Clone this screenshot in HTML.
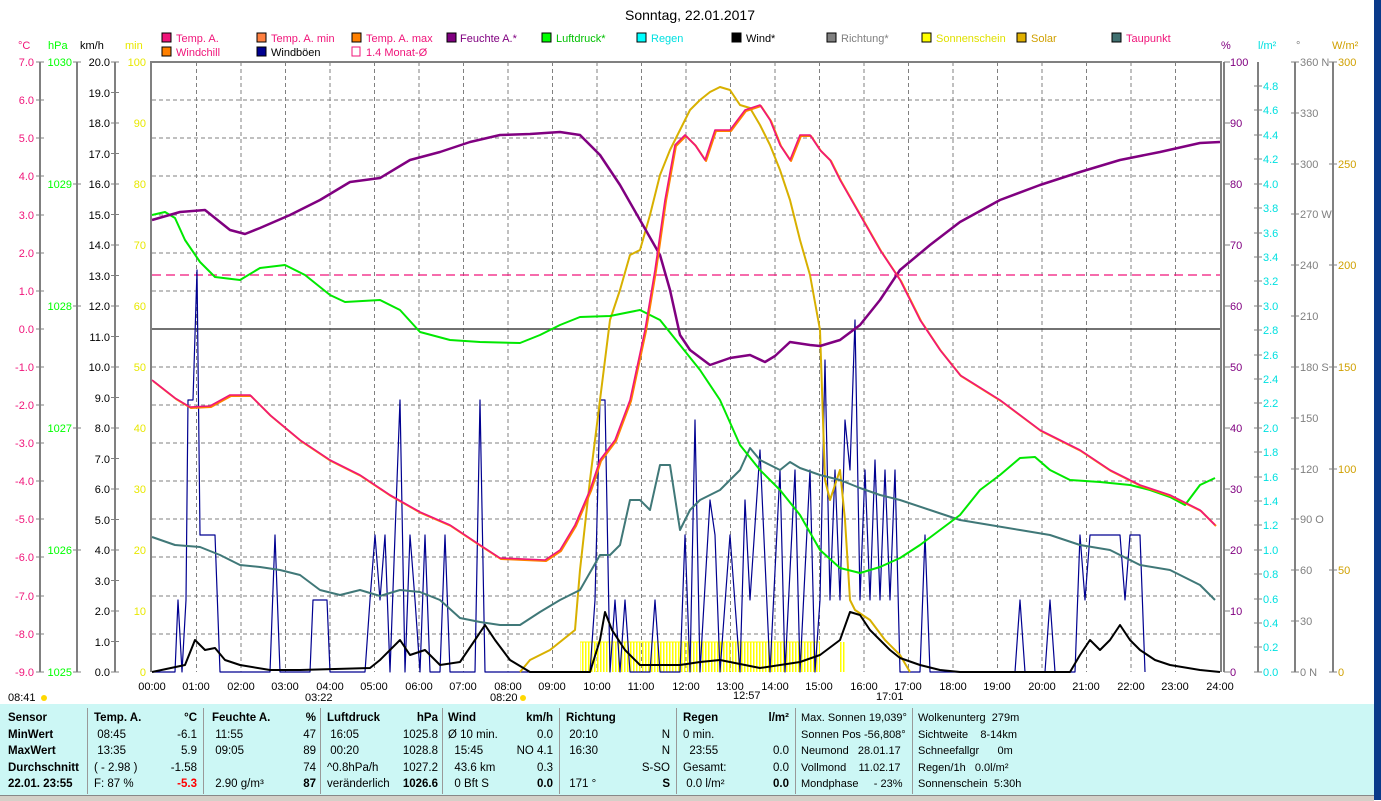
<!DOCTYPE html>
<html><head><meta charset="utf-8"><style>
body{margin:0;width:1381px;height:800px;overflow:hidden;background:#fff;font-family:"Liberation Sans",sans-serif}
svg{position:absolute;left:0;top:0}
text{font-family:"Liberation Sans",sans-serif;font-size:11px}
#tb{position:absolute;left:0;top:704px;width:1374px;height:91px;background:#ccf7f5;font-size:11.5px}
.c{position:absolute;top:4px;height:86px;border-right:1px solid #999}
.r{position:absolute;white-space:nowrap;line-height:16.5px}
b{font-weight:bold}
</style></head><body>
<svg width="1381" height="800" viewBox="0 0 1381 800">
<rect x="1374" y="0" width="7" height="800" fill="#0a3a8a"/>
<text x="690" y="20" font-size="14" text-anchor="middle" style="font-size:14px">Sonntag, 22.01.2017</text>
<g style="font-size:11px">
<rect x="162" y="33" width="9" height="9" fill="#f0157a" stroke="#000"/><text x="176" y="42" fill="#f0157a">Temp. A.</text>
<rect x="257" y="33" width="9" height="9" fill="#ff8040" stroke="#000"/><text x="271" y="42" fill="#f0157a">Temp. A. min</text>
<rect x="352" y="33" width="9" height="9" fill="#ff8000" stroke="#000"/><text x="366" y="42" fill="#f0157a">Temp. A. max</text>
<rect x="447" y="33" width="9" height="9" fill="#800080" stroke="#000"/><text x="460" y="42" fill="#800080">Feuchte A.*</text>
<rect x="542" y="33" width="9" height="9" fill="#00ff00" stroke="#000"/><text x="556" y="42" fill="#00c000">Luftdruck*</text>
<rect x="637" y="33" width="9" height="9" fill="#00ffff" stroke="#000"/><text x="651" y="42" fill="#00e0e0">Regen</text>
<rect x="732" y="33" width="9" height="9" fill="#000" stroke="#000"/><text x="746" y="42">Wind*</text>
<rect x="827" y="33" width="9" height="9" fill="#808080" stroke="#000"/><text x="841" y="42" fill="#808080">Richtung*</text>
<rect x="922" y="33" width="9" height="9" fill="#ffff00" stroke="#000"/><text x="936" y="42" fill="#e0e000">Sonnenschein</text>
<rect x="1017" y="33" width="9" height="9" fill="#e0b000" stroke="#000"/><text x="1031" y="42" fill="#d0a000">Solar</text>
<rect x="1112" y="33" width="9" height="9" fill="#407070" stroke="#000"/><text x="1126" y="42" fill="#f0157a">Taupunkt</text>
<rect x="162" y="47" width="9" height="9" fill="#ff8000" stroke="#000"/><text x="176" y="56" fill="#f0157a">Windchill</text>
<rect x="257" y="47" width="9" height="9" fill="#000090" stroke="#000"/><text x="271" y="56">Windböen</text>
<rect x="352" y="47" width="8" height="9" fill="none" stroke="#f0157a"/><text x="366" y="56" fill="#f0157a">1.4 Monat-Ø</text>
</g>
<text x="18" y="49" fill="#f0157a">°C</text><text x="48" y="49" fill="#00ff00">hPa</text><text x="80" y="49">km/h</text><text x="125" y="49" fill="#e8e800">min</text>
<text x="1221" y="49" fill="#800080">%</text><text x="1258" y="49" fill="#00e0e0">l/m²</text><text x="1296" y="49" fill="#808080">°</text><text x="1332" y="49" fill="#d0a000">W/m²</text>
<g stroke="#808080" stroke-dasharray="4,3" stroke-width="1">
<path d="M152 100H1220M152 138H1220M152 176H1220M152 215H1220M152 253H1220M152 291H1220M152 367H1220M152 405H1220M152 443H1220M152 481H1220M152 519H1220M152 557H1220M152 596H1220M152 634H1220"/>
<path d="M196.5 62V672M241 62V672M285.5 62V672M330 62V672M374.5 62V672M419 62V672M463.5 62V672M508 62V672M552.5 62V672M597 62V672M641.5 62V672M686 62V672M730.5 62V672M775 62V672M819.5 62V672M864 62V672M908.5 62V672M953 62V672M997.5 62V672M1042 62V672M1086.5 62V672M1131 62V672M1175.5 62V672"/>
</g>
<path d="M152 329H1220" stroke="#444" stroke-width="1.5"/>
<path d="M152 275H1220" stroke="#f0157a" stroke-dasharray="9,5" stroke-width="1.2"/>
<g stroke="#808080" stroke-width="2" fill="none">
<path d="M151 672V62H1221V672"/><path d="M1224 62V672"/>
<path d="M40 62V672M77 62V672M115 62V672M1258 62V672M1295 62V672M1333 62V672"/>
</g>
<g stroke="#808080" stroke-width="1">
<path d="M36 62h8M36 100h8M36 138h8M36 176h8M36 215h8M36 253h8M36 291h8M36 329h8M36 367h8M36 405h8M36 443h8M36 481h8M36 519h8M36 557h8M36 596h8M36 634h8M36 672h8"/>
<path d="M73 62h8M73 184h8M73 306h8M73 428h8M73 550h8M73 672h8"/>
<path d="M111 62h8M111 92.5h8M111 123h8M111 153.5h8M111 184h8M111 214.5h8M111 245h8M111 275.5h8M111 306h8M111 336.5h8M111 367h8M111 397.5h8M111 428h8M111 458.5h8M111 489h8M111 519.5h8M111 550h8M111 580.5h8M111 611h8M111 641.5h8M111 672h8"/>
<path d="M1224 62h6M1224 123h6M1224 184h6M1224 245h6M1224 306h6M1224 367h6M1224 428h6M1224 489h6M1224 550h6M1224 611h6M1224 672h6"/>
<path d="M1254 86h8M1254 110h8M1254 135h8M1254 159h8M1254 184h8M1254 208h8M1254 233h8M1254 257h8M1254 281h8M1254 306h8M1254 330h8M1254 355h8M1254 379h8M1254 403h8M1254 428h8M1254 452h8M1254 477h8M1254 501h8M1254 525h8M1254 550h8M1254 574h8M1254 599h8M1254 623h8M1254 647h8M1254 672h8"/>
<path d="M1291 62h8M1291 113h8M1291 164h8M1291 214h8M1291 265h8M1291 316h8M1291 367h8M1291 418h8M1291 469h8M1291 519h8M1291 570h8M1291 621h8M1291 672h8"/>
<path d="M1329 62h8M1329 164h8M1329 265h8M1329 367h8M1329 469h8M1329 570h8M1329 672h8"/>
</g>
<g fill="#f0157a" text-anchor="end">
<text x="34" y="66">7.0</text><text x="34" y="104">6.0</text><text x="34" y="142">5.0</text><text x="34" y="180">4.0</text><text x="34" y="219">3.0</text><text x="34" y="257">2.0</text><text x="34" y="295">1.0</text><text x="34" y="333">0.0</text><text x="34" y="371">-1.0</text><text x="34" y="409">-2.0</text><text x="34" y="447">-3.0</text><text x="34" y="485">-4.0</text><text x="34" y="523">-5.0</text><text x="34" y="561">-6.0</text><text x="34" y="600">-7.0</text><text x="34" y="638">-8.0</text><text x="34" y="676">-9.0</text>
</g>
<g fill="#00ff00" text-anchor="end"><text x="72" y="66">1030</text><text x="72" y="188">1029</text><text x="72" y="310">1028</text><text x="72" y="432">1027</text><text x="72" y="554">1026</text><text x="72" y="676">1025</text></g>
<g text-anchor="end">
<text x="110" y="66">20.0</text><text x="110" y="97">19.0</text><text x="110" y="127">18.0</text><text x="110" y="158">17.0</text><text x="110" y="188">16.0</text><text x="110" y="219">15.0</text><text x="110" y="249">14.0</text><text x="110" y="280">13.0</text><text x="110" y="310">12.0</text><text x="110" y="341">11.0</text><text x="110" y="371">10.0</text><text x="110" y="402">9.0</text><text x="110" y="432">8.0</text><text x="110" y="463">7.0</text><text x="110" y="493">6.0</text><text x="110" y="524">5.0</text><text x="110" y="554">4.0</text><text x="110" y="585">3.0</text><text x="110" y="615">2.0</text><text x="110" y="646">1.0</text><text x="110" y="676">0.0</text>
</g>
<g fill="#e8e800" text-anchor="end"><text x="146" y="66">100</text><text x="146" y="127">90</text><text x="146" y="188">80</text><text x="146" y="249">70</text><text x="146" y="310">60</text><text x="146" y="371">50</text><text x="146" y="432">40</text><text x="146" y="493">30</text><text x="146" y="554">20</text><text x="146" y="615">10</text><text x="146" y="676">0</text></g>
<g fill="#800080"><text x="1230" y="66">100</text><text x="1230" y="127">90</text><text x="1230" y="188">80</text><text x="1230" y="249">70</text><text x="1230" y="310">60</text><text x="1230" y="371">50</text><text x="1230" y="432">40</text><text x="1230" y="493">30</text><text x="1230" y="554">20</text><text x="1230" y="615">10</text><text x="1230" y="676">0</text></g>
<g fill="#00e0e0"><text x="1263" y="90">4.8</text><text x="1263" y="114">4.6</text><text x="1263" y="139">4.4</text><text x="1263" y="163">4.2</text><text x="1263" y="188">4.0</text><text x="1263" y="212">3.8</text><text x="1263" y="237">3.6</text><text x="1263" y="261">3.4</text><text x="1263" y="285">3.2</text><text x="1263" y="310">3.0</text><text x="1263" y="334">2.8</text><text x="1263" y="359">2.6</text><text x="1263" y="383">2.4</text><text x="1263" y="407">2.2</text><text x="1263" y="432">2.0</text><text x="1263" y="456">1.8</text><text x="1263" y="481">1.6</text><text x="1263" y="505">1.4</text><text x="1263" y="529">1.2</text><text x="1263" y="554">1.0</text><text x="1263" y="578">0.8</text><text x="1263" y="603">0.6</text><text x="1263" y="627">0.4</text><text x="1263" y="651">0.2</text><text x="1263" y="676">0.0</text></g>
<g fill="#808080"><text x="1300" y="66">360 N</text><text x="1300" y="117">330</text><text x="1300" y="168">300</text><text x="1300" y="218">270 W</text><text x="1300" y="269">240</text><text x="1300" y="320">210</text><text x="1300" y="371">180 S</text><text x="1300" y="422">150</text><text x="1300" y="473">120</text><text x="1300" y="523">90 O</text><text x="1300" y="574">60</text><text x="1300" y="625">30</text><text x="1300" y="676">0 N</text></g>
<g fill="#d0a000"><text x="1338" y="66">300</text><text x="1338" y="168">250</text><text x="1338" y="269">200</text><text x="1338" y="371">150</text><text x="1338" y="473">100</text><text x="1338" y="574">50</text><text x="1338" y="676">0</text></g>
<g text-anchor="middle"><text x="152" y="690">00:00</text><text x="196" y="690">01:00</text><text x="241" y="690">02:00</text><text x="285" y="690">03:00</text><text x="330" y="690">04:00</text><text x="374" y="690">05:00</text><text x="419" y="690">06:00</text><text x="463" y="690">07:00</text><text x="508" y="690">08:00</text><text x="552" y="690">09:00</text><text x="597" y="690">10:00</text><text x="641" y="690">11:00</text><text x="686" y="690">12:00</text><text x="730" y="690">13:00</text><text x="775" y="690">14:00</text><text x="819" y="690">15:00</text><text x="864" y="690">16:00</text><text x="908" y="690">17:00</text><text x="953" y="690">18:00</text><text x="997" y="690">19:00</text><text x="1042" y="690">20:00</text><text x="1086" y="690">21:00</text><text x="1131" y="690">22:00</text><text x="1175" y="690">23:00</text><text x="1220" y="690">24:00</text></g>
<text x="8" y="701">08:41</text><circle cx="44" cy="698" r="3" fill="#ffd800"/>
<text x="305" y="701">03:22</text><text x="490" y="701">08:20</text><circle cx="523" cy="698" r="3" fill="#ffd800"/><text x="733" y="699">12:57</text><text x="876" y="700">17:01</text>
<defs><pattern id="ss" width="3" height="30" patternUnits="userSpaceOnUse"><rect width="1.5" height="30" fill="#ffff00"/></pattern></defs>
<rect x="580" y="642" width="240" height="30" fill="url(#ss)"/><rect x="840" y="642" width="5" height="30" fill="url(#ss)"/>
<path d="M580 642H820" stroke="#ffff00"/>
<g fill="none" stroke-linejoin="round">
<polyline stroke="#000090" stroke-width="1.2" points="152,672 175,672 178,600 182,672 186,600 188,400 193,400 197,270 200,535 215,535 220,672 270,672 275,535 280,672 310,672 313,600 327,600 330,672 365,672 370,600 375,535 380,600 385,535 390,672 395,535 400,400 405,672 410,535 415,600 420,672 425,535 430,672 440,672 445,535 450,672 475,672 480,400 485,672 590,672 595,600 600,400 605,400 610,672 615,600 620,672 625,600 630,672 650,672 655,600 660,672 680,672 685,535 690,672 695,420 700,672 710,500 715,535 720,672 730,535 740,672 745,500 750,600 760,450 770,672 780,470 785,672 795,470 800,672 810,470 815,672 820,600 825,360 830,600 835,470 840,600 845,420 850,470 855,320 860,600 865,470 870,600 875,460 880,600 885,470 890,600 895,470 900,672 920,672 925,535 930,672 1015,672 1020,600 1025,672 1045,672 1050,600 1055,672 1075,672 1080,535 1085,600 1090,535 1120,535 1125,600 1130,535 1140,535 1145,672"/>
<polyline stroke="#d8b000" stroke-width="2" points="520,672 530,660 550,650 575,630 580,570 590,480 600,400 610,320 620,290 630,255 640,250 650,215 660,175 670,150 680,130 690,110 700,100 710,92 720,87 730,90 740,105 750,108 760,125 770,145 780,170 790,200 800,240 810,275 820,330 825,480 830,500 840,470 845,520 850,600 855,610 870,620 885,640 900,655 910,672"/>
<polyline stroke="#407878" stroke-width="2" points="152,537 175,545 200,547 220,555 240,565 260,567 280,570 300,575 320,590 340,595 360,590 380,596 400,590 420,592 440,600 460,618 480,622 500,625 520,625 540,612 560,600 580,590 600,555 610,555 620,545 630,500 640,500 650,510 660,465 670,465 680,530 690,510 700,500 720,490 740,470 750,448 760,460 780,470 790,462 800,468 820,475 840,480 860,488 880,495 900,500 930,510 960,520 990,525 1020,530 1050,535 1080,545 1110,550 1140,565 1170,570 1200,585 1215,600"/>
<polyline stroke="#00e800" stroke-width="2" points="152,215 165,212 175,218 185,240 200,262 215,277 240,280 260,268 285,265 305,275 330,295 345,302 380,300 400,310 420,332 450,340 480,342 520,343 540,335 560,325 580,317 610,316 640,310 660,320 680,345 700,370 720,400 740,445 760,470 780,490 800,515 820,550 840,568 860,573 880,567 900,558 920,545 940,530 960,515 980,490 1000,475 1020,458 1035,457 1050,470 1070,480 1100,482 1130,485 1150,490 1170,497 1185,505 1200,485 1215,478"/>
<polyline stroke="#800080" stroke-width="2.5" points="152,220 180,212 205,210 230,230 245,234 260,228 290,215 320,200 350,182 380,178 410,160 440,152 470,142 500,135 530,134 560,132 580,135 600,155 620,185 640,220 660,255 670,290 680,335 690,350 710,365 730,358 750,355 765,362 775,356 790,342 810,345 820,346 840,340 860,325 880,300 900,270 930,245 960,222 1000,200 1040,185 1080,172 1120,160 1160,152 1200,143 1220,142"/>
<polyline stroke="#ff8000" stroke-width="2" transform="translate(1,1)" points="152,380 175,398 190,407 210,406 230,395 250,395 270,415 300,440 330,460 360,475 390,495 420,512 450,525 480,545 500,558 545,560 560,550 575,525 590,490 600,460 615,440 630,400 645,330 655,270 665,200 675,145 685,135 695,145 705,160 715,130 730,130 745,110 760,105 770,120 780,145 790,160 800,135 810,135 820,150 830,160 840,180 860,215 880,250 900,280 920,320 940,350 960,375 1000,400 1040,430 1080,450 1110,470 1140,485 1170,495 1200,510 1215,525"/>
<polyline stroke="#f0157a" stroke-width="1.6" points="152,380 175,398 190,407 210,406 230,395 250,395 270,415 300,440 330,460 360,475 390,495 420,512 450,525 480,545 500,558 545,560 560,550 575,525 590,490 600,460 615,440 630,400 645,330 655,270 665,200 675,145 685,135 695,145 705,160 715,130 730,130 745,110 760,105 770,120 780,145 790,160 800,135 810,135 820,150 830,160 840,180 860,215 880,250 900,280 920,320 940,350 960,375 1000,400 1040,430 1080,450 1110,470 1140,485 1170,495 1200,510 1215,525"/>
<polyline stroke="#000" stroke-width="2" points="152,672 185,665 195,640 205,650 215,648 225,660 240,665 270,670 300,670 370,668 380,660 400,640 410,655 425,650 440,665 460,662 475,640 485,625 495,640 510,660 530,672 590,672 600,640 605,612 612,630 625,650 640,665 680,665 700,662 720,660 760,668 800,662 820,655 840,640 850,612 860,615 870,630 880,640 890,650 900,658 920,665 940,670 960,672 1070,672 1080,655 1090,640 1100,650 1110,640 1120,625 1130,640 1140,650 1155,660 1170,665 1200,670 1220,672"/>
</g>
</svg>
<div id="tb">
<div class="c" style="left:0;width:87px"><div class="r" style="left:8px;top:2px;font-weight:bold">Sensor<br>MinWert<br>MaxWert<br>Durchschnitt<br>22.01. 23:55</div></div>
<div class="c" style="left:88px;width:115px"><div class="r" style="left:6px;top:2px"><b>Temp. A.</b><br>&nbsp;08:45<br>&nbsp;13:35<br>( - 2.98 )<br>F: 87 %</div><div class="r" style="right:6px;top:2px;text-align:right"><b>°C</b><br>-6.1<br>5.9<br>-1.58<br><b style="color:#f00">-5.3</b></div></div>
<div class="c" style="left:204px;width:116px"><div class="r" style="left:8px;top:2px"><b>Feuchte A.</b><br>&nbsp;11:55<br>&nbsp;09:05<br>&nbsp;<br>&nbsp;2.90 g/m³</div><div class="r" style="right:4px;top:2px;text-align:right"><b>%</b><br>47<br>89<br>74<br><b>87</b></div></div>
<div class="c" style="left:321px;width:121px"><div class="r" style="left:6px;top:2px"><b>Luftdruck</b><br>&nbsp;16:05<br>&nbsp;00:20<br>^0.8hPa/h<br>veränderlich</div><div class="r" style="right:4px;top:2px;text-align:right"><b>hPa</b><br>1025.8<br>1028.8<br>1027.2<br><b>1026.6</b></div></div>
<div class="c" style="left:443px;width:116px"><div class="r" style="left:5px;top:2px"><b>Wind</b><br>Ø 10 min.<br>&nbsp;&nbsp;15:45<br>&nbsp;&nbsp;43.6 km<br>&nbsp;&nbsp;0 Bft S</div><div class="r" style="right:6px;top:2px;text-align:right"><b>km/h</b><br>0.0<br>NO 4.1<br>0.3<br><b>0.0</b></div></div>
<div class="c" style="left:560px;width:116px"><div class="r" style="left:6px;top:2px"><b>Richtung</b><br>&nbsp;20:10<br>&nbsp;16:30<br>&nbsp;<br>&nbsp;171 °</div><div class="r" style="right:6px;top:2px;text-align:right">&nbsp;<br>N<br>N<br>S-SO<br><b>S</b></div></div>
<div class="c" style="left:677px;width:118px"><div class="r" style="left:6px;top:2px"><b>Regen</b><br>0 min.<br>&nbsp;&nbsp;23:55<br>Gesamt:<br>&nbsp;0.0 l/m²</div><div class="r" style="right:6px;top:2px;text-align:right"><b>l/m²</b><br>&nbsp;<br>0.0<br>0.0<br><b>0.0</b></div></div>
<div class="c" style="left:796px;width:116px;font-size:11px"><div class="r" style="left:5px;top:2px">Max. Sonnen 19,039°<br>Sonnen Pos -56,808°<br>Neumond &nbsp;&nbsp;28.01.17<br>Vollmond &nbsp;&nbsp;&nbsp;11.02.17<br>Mondphase &nbsp;&nbsp;&nbsp;&nbsp;- 23%</div></div>
<div class="c" style="left:913px;width:120px;border:none;font-size:11px"><div class="r" style="left:5px;top:2px">Wolkenunterg &nbsp;279m<br>Sichtweite &nbsp;&nbsp;&nbsp;8-14km<br>Schneefallgr &nbsp;&nbsp;&nbsp;&nbsp;&nbsp;0m<br>Regen/1h &nbsp;&nbsp;0.0l/m²<br>Sonnenschein &nbsp;5:30h</div></div>
</div>
<div style="position:absolute;left:0;top:795px;width:1374px;height:5px;background:#d4d0c8;border-top:1px solid #888"></div>
</body></html>
